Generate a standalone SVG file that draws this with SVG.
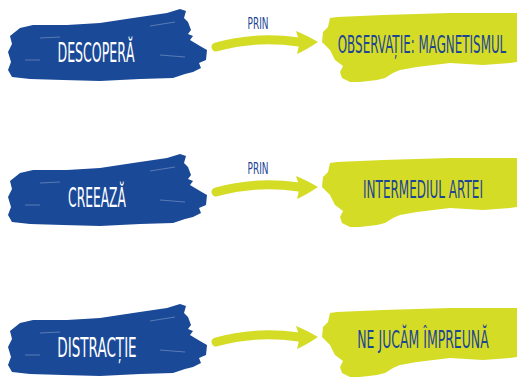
<svg xmlns="http://www.w3.org/2000/svg" width="517" height="377" viewBox="0 0 517 377">
<style>
.blue{fill:#1a4998}
.yel{fill:#d5dc26}
.tw{fill:#ffffff;font-family:"DejaVu Sans",sans-serif;font-size:26px;text-anchor:middle}
.tb{fill:#1d4596;font-family:"DejaVu Sans",sans-serif;font-size:24px;text-anchor:middle}
.tp{fill:#1d4596;font-family:"DejaVu Sans",sans-serif;font-size:16px;text-anchor:middle}
.streak{stroke:#ffffff;stroke-width:0.8;opacity:0.35;fill:none}
.arr{fill:none;stroke:#d5dc26;stroke-width:9;stroke-linecap:round}
</style>
<defs>
<path id="bb" d="M10,36 L20,28 L33,25 L67,25 L100,23 L133,18 L167,13 L180,9 L186,11 L184,18 L188,22 L191,30 L188,34 L193,36 L190,40 L200,46 L207,50 L206,60 L199,63 L201,68 L193,72 L185,74 L173,78 L140,79 L100,81 L63,80 L30,79 L12,77 L8,70 L11,62 L8,52 L12,44 Z"/>
<path id="yb" d="M328,27 L330,18 L337,17 L383,15 L450,13 L513,13 L517,13 L517,62 L510,63 L483,65 L450,63 L417,67 L400,70 L393,73 L385,78 L377,80 L360,82 L350,82 L342,78 L340,72 L343,66 L335,60 L330,50 L322,42 L323,32 Z"/>
<g id="arrowShape">
<path class="arr" d="M216,47 C240,40 270,38 299,42"/>
<path class="yel" d="M296,31 Q306,35 318,42 Q306,50 297,54 Q301,43 296,31 Z"/>
</g>
</defs>

<g id="connectors">
<use href="#arrowShape"/>
<use href="#arrowShape" transform="translate(0,145)"/>
<use href="#arrowShape" transform="translate(0,295)"/>
<text class="tp" transform="translate(258,29) scale(0.56,1)">PRIN</text>
<text class="tp" transform="translate(258,174) scale(0.56,1)">PRIN</text>
</g>

<g id="node-descopera">
<use href="#bb" class="blue"/>
<path class="streak" d="M150,26 L175,22 M40,38 L60,37 M160,55 L185,57 M25,60 L40,60"/>
<text class="tw" transform="translate(96,62) scale(0.483,1)">DESCOPERĂ</text>
</g>
<g id="node-observatie">
<use href="#yb" class="yel"/>
<text class="tb" transform="translate(422,53) scale(0.496,1)">OBSERVAȚIE: MAGNETISMUL</text>
</g>

<g id="node-creeaza" transform="translate(0,145)">
<use href="#bb" class="blue"/>
<path class="streak" d="M150,26 L175,22 M40,38 L60,37 M160,55 L185,57 M25,60 L40,60"/>
<text class="tw" transform="translate(97,62) scale(0.473,1)">CREEAZĂ</text>
</g>
<g id="node-intermediul" transform="translate(0,145)">
<use href="#yb" class="yel"/>
<text class="tb" transform="translate(423,53) scale(0.5,1)">INTERMEDIUL ARTEI</text>
</g>

<g id="node-distractie" transform="translate(0,295)">
<use href="#bb" class="blue"/>
<path class="streak" d="M150,26 L175,22 M40,38 L60,37 M160,55 L185,57 M25,60 L40,60"/>
<text class="tw" transform="translate(97,62) scale(0.52,1)">DISTRACȚIE</text>
</g>
<g id="node-jucam" transform="translate(0,295)">
<use href="#yb" class="yel"/>
<text class="tb" transform="translate(423,53) scale(0.52,1)">NE JUCĂM ÎMPREUNĂ</text>
</g>
</svg>
